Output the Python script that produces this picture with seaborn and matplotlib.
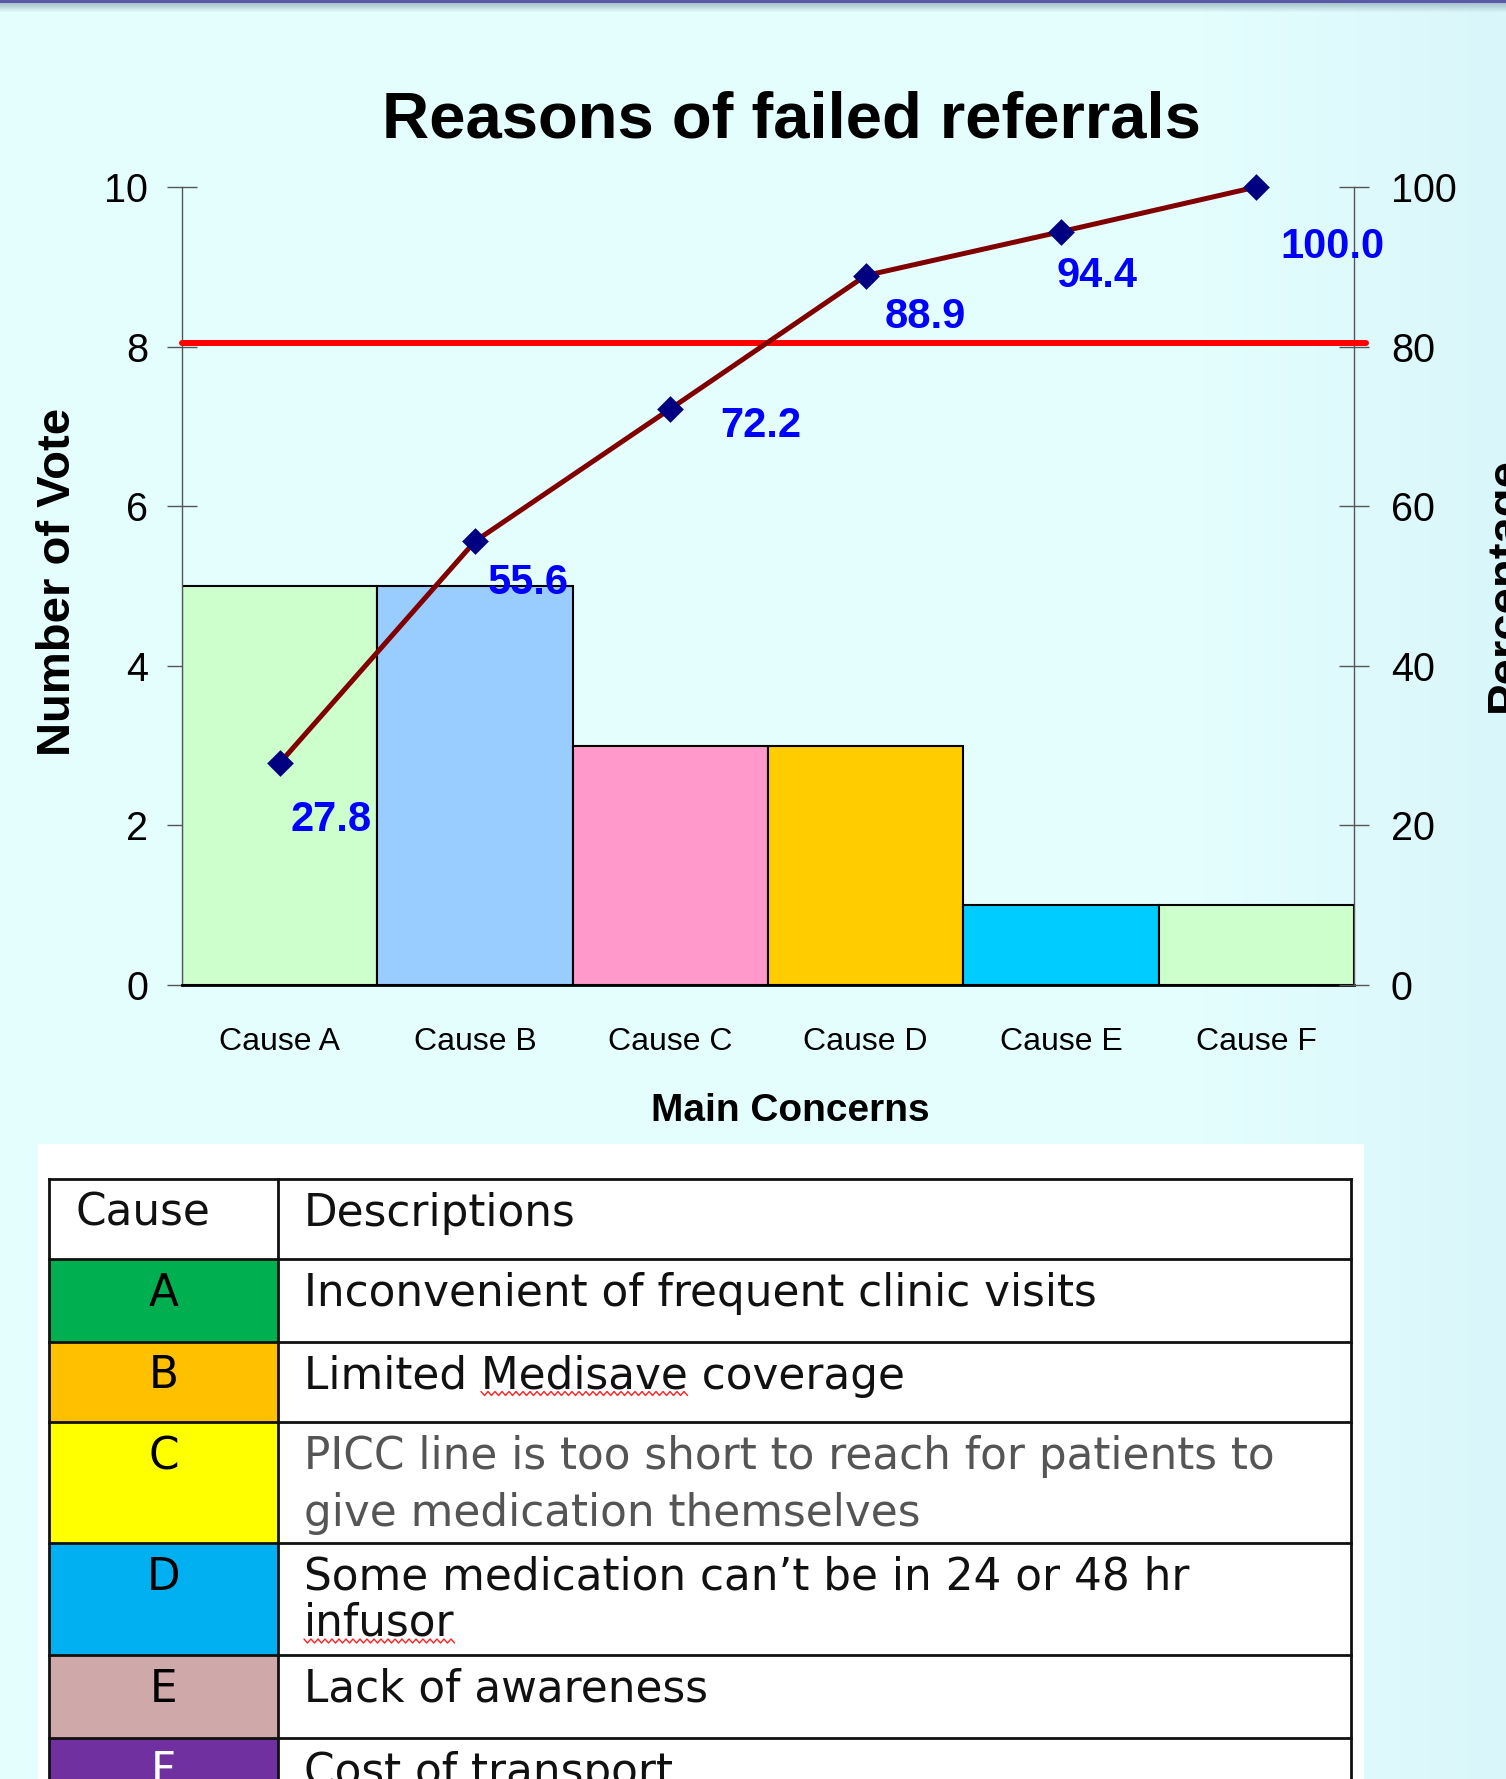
import numpy as np
import pandas as pd
import matplotlib
matplotlib.use("Agg")
import matplotlib.pyplot as plt
import seaborn as sns
from matplotlib.ticker import FixedLocator

# ---------------- data ----------------
causes = ["Cause A", "Cause B", "Cause C", "Cause D", "Cause E", "Cause F"]
votes = [5, 5, 3, 3, 1, 1]
cumulative_pct = [27.8, 55.6, 72.2, 88.9, 94.4, 100.0]
cum_labels = ["27.8", "55.6", "72.2", "88.9", "94.4", "100.0"]
threshold_pct = 80.5
bar_colors = ["#CCFFCC", "#99CCFF", "#FF99CC", "#FFCC00", "#00CCFF", "#CCFFCC"]
left_ticks = [0, 2, 4, 6, 8, 10]
right_ticks = [0, 20, 40, 60, 80, 100]

title = "Reasons of failed referrals"
xlabel = "Main Concerns"
ylabel_left = "Number of Vote"
ylabel_right = "Percentage"

table_header = ["Cause", "Descriptions"]
table_codes = ["A", "B", "C", "D", "E", "F"]
table_descriptions = [
    ["Inconvenient of frequent clinic visits"],
    ["Limited Medisave coverage"],
    ["PICC line is too short to reach for patients to", "give medication themselves"],
    ["Some medication can\u2019t be in 24 or 48 hr", "infusor"],
    ["Lack of awareness"],
    ["Cost of transport"],
]
table_code_colors = ["#00B050", "#FFC000", "#FFFF00", "#00B0F0", "#CFA8A9", "#7030A0"]
table_code_text_colors = ["black", "black", "black", "black", "black", "white"]
table_desc_text_colors = ["#111111", "#111111", "#555555", "#111111", "#111111", "#111111"]
misspelled = [(1, 0, "Limited ", "Medisave"), (3, 1, "", "infusor")]

# ---------------- figure ----------------
W, H = 1506, 1779
sns.set_style("white")
plt.rcParams["font.family"] = ["Liberation Sans", "DejaVu Sans"]
plt.rcParams["text.color"] = "black"
plt.rcParams["axes.labelcolor"] = "black"
fig = plt.figure(figsize=(W / 100, H / 100), dpi=100)

# background gradient
bg = fig.add_axes([0, 0, 1, 1], zorder=-10)
img = np.zeros((H, W, 3), dtype=np.float32)
base_left = np.array([0xE4, 0xFE, 0xFE]) / 255.0
base_right = np.array([0xD9, 0xF6, 0xFA]) / 255.0
xs = np.linspace(0, 1, W)
t = np.clip((xs - 0.80) / 0.20, 0, 1)[:, None]
row = base_left[None, :] * (1 - t) + base_right[None, :] * t
img[:] = row[None, :, :]
band_dark = np.array([0x5A, 0x5A, 0xA8]) / 255.0
band_mid = np.array([0xA8, 0xC4, 0xCC]) / 255.0
for yy in range(0, 12):
    if yy < 3:
        img[yy] = band_dark[None, :]
    else:
        f = (yy - 3) / 9.0
        img[yy] = band_mid[None, :] * (1 - f) + img[yy] * f
bg.imshow(img, extent=[0, 1, 0, 1], aspect="auto", interpolation="nearest")
bg.set_axis_off()

# ---------------- chart ----------------
L, R, T, B = 182, 1354, 187, 985
ax = fig.add_axes([L / W, 1 - B / H, (R - L) / W, (B - T) / H])
ax.patch.set_alpha(0)

df = pd.DataFrame({"cause": causes, "votes": votes, "cum": cumulative_pct})
sns.barplot(data=df, x="cause", y="votes", hue="cause", palette=bar_colors,
            width=1.0, edgecolor="black", linewidth=1.5, saturation=1,
            legend=False, ax=ax, zorder=2)
ax.set_xlim(-0.5, len(causes) - 0.5)
ax.set_ylim(0, 10)
ax.set_yticks(left_ticks)
ax.set_xlabel("")
ax.set_ylabel("")
ax.tick_params(axis="y", direction="inout", length=21, width=1, colors="#555555",
               labelcolor="black", labelsize=28.5, pad=14)
ax.tick_params(axis="x", which="major", length=0, labelsize=23, pad=30, labelcolor="black")
ax.xaxis.set_minor_locator(FixedLocator(np.arange(-0.5, len(causes), 1.0)))
ax.tick_params(axis="x", which="minor", direction="out", length=9, width=1, colors="#555555")
for s in ["top", "right"]:
    ax.spines[s].set_visible(False)
ax.spines["left"].set_color("#555555")
ax.spines["left"].set_linewidth(1)
ax.spines["bottom"].set_color("black")
ax.spines["bottom"].set_linewidth(2)
ax.spines["bottom"].set_zorder(3)

ax2 = ax.twinx()
ax2.set_ylim(0, 100)
ax2.set_yticks(right_ticks)
ax2.tick_params(axis="y", direction="inout", length=21, width=1, colors="#555555",
                labelcolor="black", labelsize=28.5, pad=16)
for s in ["top", "left", "bottom"]:
    ax2.spines[s].set_visible(False)
ax2.spines["right"].set_color("#555555")
ax2.spines["right"].set_linewidth(1)

ax2.axhline(threshold_pct, xmin=0, xmax=1.01, color="#FF0000", lw=4.3, clip_on=False, zorder=3)
pos = np.arange(len(causes))
sns.lineplot(x=pos, y=cumulative_pct, color="#800000", lw=3.6, ax=ax2, zorder=4)
sns.scatterplot(x=pos, y=cumulative_pct, marker="D", s=185, color="#000080",
                edgecolor="#000080", linewidth=0, ax=ax2, zorder=5, clip_on=False)
ax2.set_ylabel("")

label_offsets = [(37, -41), (38, -30), (65, -12), (43, -30), (26, -32), (55, -43)]
for x, y, lab, off in zip(pos, cumulative_pct, cum_labels, label_offsets):
    ax2.annotate(lab, (x, y), xytext=off, textcoords="offset points",
                 ha="center", va="center", color="#0000FF", fontsize=30,
                 fontweight="bold", annotation_clip=False, zorder=6)

fig.text(791 / W, 1 - 138 / H, title, ha="center", va="baseline",
         fontsize=47, fontweight="bold", color="black")
fig.text(790 / W, 1 - 1121 / H, xlabel, ha="center", va="baseline",
         fontsize=28, fontweight="bold", color="black")
fig.text(58 / W, 1 - 582 / H, ylabel_left, rotation=90, ha="center", va="center",
         fontsize=34, fontweight="bold", color="black")
fig.text(1484 / W, 1 - 584 / H, ylabel_right, rotation=90, ha="left", va="center",
         fontsize=34, fontweight="bold", color="black")

# ---------------- table ----------------
tab = fig.add_axes([0, 0, 1, 1], zorder=1)
tab.set_xlim(0, W)
tab.set_ylim(H, 0)
tab.set_axis_off()
tab.patch.set_alpha(0)
tab.add_patch(plt.Rectangle((38, 1144), 1364 - 38, H - 1144 + 5, facecolor="white",
                            edgecolor="none"))
tx0, tx1, tx2 = 49, 278, 1351
row_tops = [1179, 1259, 1341.5, 1422, 1543, 1655, 1737.5, 1830]
line_gap = [45, 45, 57, 46, 45, 45]
tfs = 31.5
tfont = ["DejaVu Sans"]
for i in range(len(table_codes)):
    y0, y1 = row_tops[i + 1], row_tops[i + 2]
    tab.add_patch(plt.Rectangle((tx0, y0), tx1 - tx0, y1 - y0,
                                facecolor=table_code_colors[i], edgecolor="none"))
for y in row_tops[:-1]:
    tab.plot([tx0, tx2], [y, y], color="#111111", lw=2.0, solid_capstyle="projecting")
for x in [tx0, tx1, tx2]:
    tab.plot([x, x], [row_tops[0], H + 5], color="#111111", lw=2.0, solid_capstyle="projecting")

tab.text(76, row_tops[0] + 47, table_header[0], fontsize=tfs, family=tfont,
         va="baseline", ha="left", color="#111111")
tab.text(304, row_tops[0] + 47, table_header[1], fontsize=tfs, family=tfont,
         va="baseline", ha="left", color="#111111")
desc_objs = []
for i, (code, lines) in enumerate(zip(table_codes, table_descriptions)):
    yb = row_tops[i + 1] + 47
    tab.text((tx0 + tx1) / 2, yb, code, fontsize=tfs, family=tfont, va="baseline",
             ha="center", color=table_code_text_colors[i])
    objs = []
    for li, line in enumerate(lines):
        objs.append(tab.text(304, yb + li * line_gap[i], line, fontsize=tfs, family=tfont,
                             va="baseline", ha="left", color=table_desc_text_colors[i]))
    desc_objs.append(objs)

# spell-check wavy underlines
fig.canvas.draw()
renderer = fig.canvas.get_renderer()
for ri, li, prefix, word in misspelled:
    tobj = desc_objs[ri][li]
    prop = tobj.get_fontproperties()
    w_full, _, _ = renderer.get_text_width_height_descent(prefix + word, prop, ismath=False)
    w_word, _, _ = renderer.get_text_width_height_descent(word, prop, ismath=False)
    xs0 = 304 + (w_full - w_word)
    yb = row_tops[ri + 1] + 47 + li * line_gap[ri]
    n = int(w_word / 3.5)
    wx = xs0 + np.arange(n + 1) * 3.5
    wy = yb + 3 + np.where(np.arange(n + 1) % 2 == 0, 0, 4)
    tab.plot(wx, wy, color="#FF2020", lw=1.0)

fig.savefig("out.png", dpi=100)
